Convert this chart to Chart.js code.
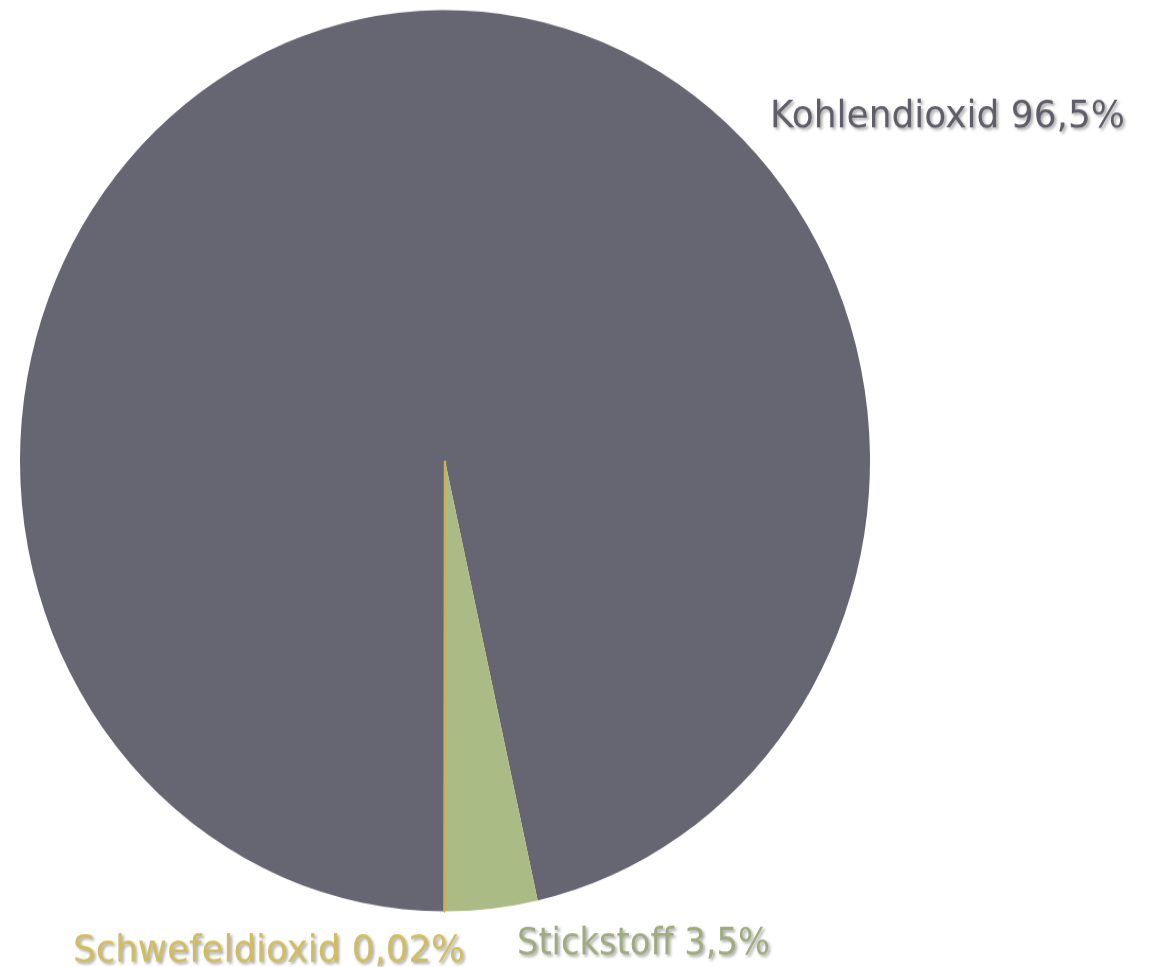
<!DOCTYPE html>
<html lang="de">
<head>
    <meta charset="UTF-8">
    <title>Atmosphäre</title>
    <script src="https://cdn.jsdelivr.net/npm/chart.js"></script>
    <style>
        html, body { margin: 0; padding: 0; background: #fff; overflow: hidden; }
        body { width: 1157px; height: 967px; }
        /* the original picture is a little taller than wide: stretch the 1157x912 bitmap to 967 */
        #gasChart { width: 1157px !important; height: 967px !important; }
    </style>
</head>
<body>
    <canvas id="gasChart" width="1157" height="912"></canvas>

    <script>
        // Data
        const gases = ['Kohlendioxid', 'Stickstoff', 'Schwefeldioxid'];
        const shares = [96.5, 3.5, 0.02];
        const shareText = ['96,5%', '3,5%', '0,02%'];

        const sliceColors = ['#666572', '#abbb85', '#c9b24e'];
        const textColors = ['#5e5d68', '#9eab7c', '#d2bd5c'];

        // label placement (bitmap px): left x, baseline y, width to fit
        const labelPos = [
            [770, 120, 355],
            [517, 900, 253],
            [73, 907, 392]
        ];

        const labelPlugin = {
            id: 'gasLabels',
            afterDraw(chart) {
                const ctx = chart.ctx;
                ctx.save();
                ctx.font = '35px "DejaVu Sans"';
                ctx.textBaseline = 'alphabetic';
                gases.forEach((g, i) => {
                    const txt = g + ' ' + shareText[i];
                    const [x, y, w] = labelPos[i];
                    const k = w / ctx.measureText(txt).width;
                    ctx.save();
                    ctx.translate(x, y);
                    ctx.scale(k, 1);
                    ctx.shadowColor = 'rgba(0,0,0,0.35)';
                    ctx.shadowBlur = 3;
                    ctx.shadowOffsetX = 2;
                    ctx.shadowOffsetY = 2;
                    ctx.fillStyle = textColors[i];
                    ctx.fillText(txt, 0, 0);
                    ctx.restore();
                });
                ctx.restore();
            }
        };

        const ctx = document.getElementById('gasChart').getContext('2d');
        new Chart(ctx, {
            type: 'pie',
            data: {
                labels: gases,
                datasets: [{
                    data: shares,
                    backgroundColor: sliceColors,
                    borderColor: sliceColors,
                    borderWidth: [0, 0, 2.5],
                    hoverOffset: 0
                }]
            },
            options: {
                responsive: false,
                animation: false,
                radius: 425,
                rotation: 180 + 0.02 * 3.6,
                layout: { padding: { left: 20, right: 287, top: 9.5, bottom: 52.5 } },
                plugins: {
                    legend: { display: false },
                    tooltip: { enabled: false }
                }
            },
            plugins: [labelPlugin]
        });
    </script>
</body>
</html>
